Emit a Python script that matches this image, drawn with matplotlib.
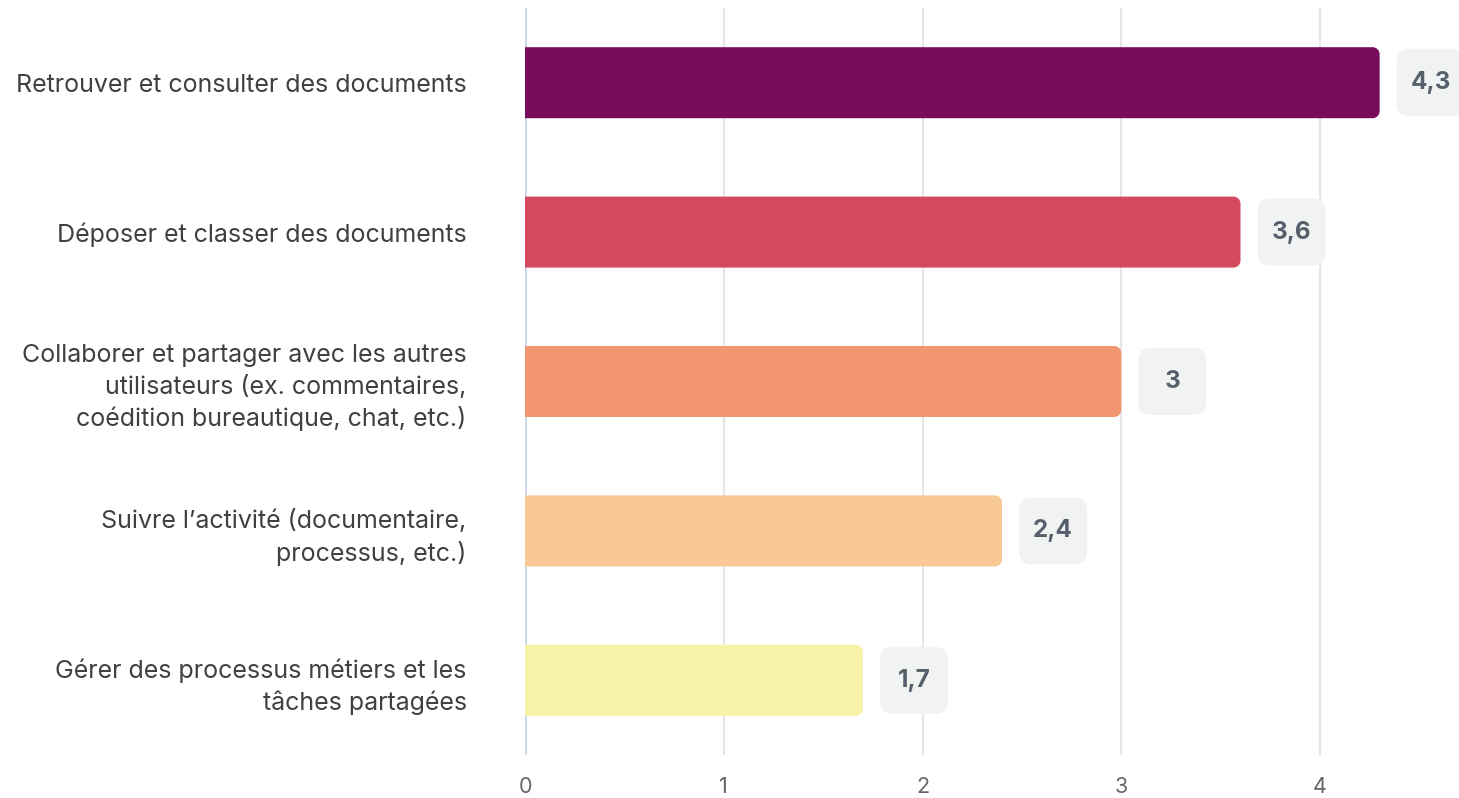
import matplotlib
matplotlib.use("Agg")
import matplotlib.pyplot as plt
from matplotlib.patches import FancyBboxPatch, PathPatch
from matplotlib.path import Path

categories = [
    "Retrouver et consulter des documents",
    "Déposer et classer des documents",
    "Collaborer et partager avec les autres\nutilisateurs (ex. commentaires,\ncoédition bureautique, chat, etc.)",
    "Suivre l\u2019activité (documentaire,\nprocessus, etc.)",
    "Gérer des processus métiers et les\ntâches partagées",
]
values = [4.3, 3.6, 3.0, 2.4, 1.7]
value_labels = ["4,3", "3,6", "3", "2,4", "1,7"]
colors = ["#770B5C", "#D5495F", "#F29571", "#F9C995", "#F8F1A8"]
xticks = [0, 1, 2, 3, 4]

plt.rcParams["font.family"] = ["Inter", "DejaVu Sans"]

W, H = 1459, 798
fig = plt.figure(figsize=(W / 100, H / 100), dpi=100)
ax = fig.add_axes([525 / W, 1 - 755 / H, 1 - 525 / W, (755 - 8) / H])

xmax = (W - 525) / 198.75
ax.set_xlim(0, xmax)
ax.set_ylim(len(categories) - 0.5, -0.5)

# pixel -> data scale
px_x = 198.75
px_y = (755 - 8) / len(categories)
aspect = px_x / px_y


def right_rounded(x0, y0, w, h, rx, ry):
    # rectangle with square left side and rounded right corners
    k = 0.5523
    x1, y1 = x0 + w, y0 + h
    verts = [
        (x0, y0), (x1 - rx, y0),
        (x1 - rx + k * rx, y0), (x1, y0 + ry - k * ry), (x1, y0 + ry),
        (x1, y1 - ry),
        (x1, y1 - ry + k * ry), (x1 - rx + k * rx, y1), (x1 - rx, y1),
        (x0, y1), (x0, y0),
    ]
    codes = [Path.MOVETO, Path.LINETO,
             Path.CURVE4, Path.CURVE4, Path.CURVE4,
             Path.LINETO,
             Path.CURVE4, Path.CURVE4, Path.CURVE4,
             Path.LINETO, Path.CLOSEPOLY]
    return Path(verts, codes)


bar_h = 71 / px_y
bars = ax.barh(range(len(categories)), values, height=bar_h, color=colors, zorder=3)

for b, c in zip(bars, colors):
    b.set_visible(False)
    p = right_rounded(b.get_x(), b.get_y(), b.get_width(), b.get_height(),
                      7 / px_x, 7 / px_y)
    ax.add_patch(PathPatch(p, fc=c, ec="none", zorder=3))

# value label boxes
box_w = 68 / px_x
box_h = 67 / px_y
gap = 17 / px_x
r_box = 13 / px_x
for i, (v, lab) in enumerate(zip(values, value_labels)):
    bx = v + gap
    ax.add_patch(FancyBboxPatch((bx, i - box_h / 2), box_w, box_h,
                                boxstyle=f"round,pad=0,rounding_size={r_box}",
                                mutation_aspect=aspect, fc="#F1F3F3", ec="none",
                                zorder=4))
    ax.text(bx + box_w / 2, i, lab, ha="center", va="center", fontsize=17.5,
            fontweight="bold", color="#56606C", zorder=5)

ax.set_xticks(xticks)
ax.set_xticklabels([str(t) for t in xticks])
ax.set_yticks(range(len(categories)))
ax.set_yticklabels(categories, fontsize=18, color="#404040", linespacing=1.38)
ax.tick_params(axis="y", length=0, pad=42)
ax.tick_params(axis="x", length=0, pad=16, labelsize=15.5, labelcolor="#666666")

for s in ax.spines.values():
    s.set_visible(False)
for t in xticks[1:]:
    ax.axvline(t, color="#E6E6E6", lw=1.5, zorder=1)
ax.axvline(0, color="#CCD6EB", lw=2, zorder=2)

fig.savefig("out.png", dpi=100)
